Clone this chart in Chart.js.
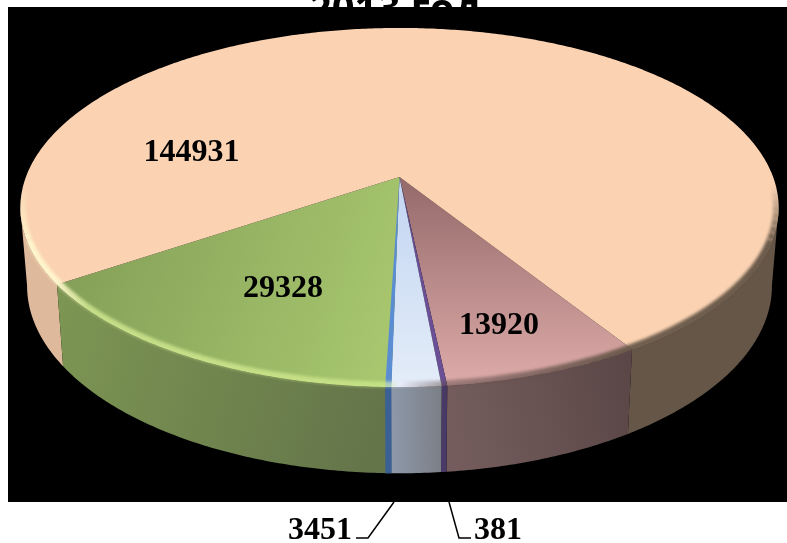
<!DOCTYPE html>
<html>
<head>
<meta charset="utf-8">
<title>2013 год</title>
<script src="https://cdn.jsdelivr.net/npm/chart.js@4"></script>
<style>
    body { margin: 0; background: white; }
    canvas { display: block; }
</style>
</head>
<body>
<canvas id="myChart" width="787" height="543"></canvas>
<script>
let titleText = "2013 год";
let categories = ["Slice A", "Slice B", "Slice C", "Slice D", "Slice E"];
let values = [13920, 381, 3451, 29328, 144931];

// colours per slice, same order as the values
let topFrom = ["#94696a", "#6b4f96", "#c2d5f2", "#84a058", "#fbd3b3"];
let topTo = ["#dcaaa8", "#6f5199", "#e3ecf8", "#a9c86f", "#fbd3b3"];
let wallFrom = ["#745c5c", "#4a3a68", "#8d98a8", "#7d9653", "#dfb99b"];
let wallTo = ["#5a4646", "#463660", "#7b7f86", "#64754a", "#655647"];

// where each label sits, x y
let labelSpots = [[499, 326], [498, 531], [320, 531], [283, 289], [191.5, 153]];

// projection of the pie, near side is bigger
let cx = 399.5;
let persp = 0.17;
let topShape = { apexY: 177, a: 373.6, b: 174.4 };
let lowShape = { apexY: 254, a: 367, b: 182 };

function project(shape, angle) {
    let w = 1 - persp * Math.sin(angle);
    return {
        x: cx + shape.a * Math.cos(angle) / w,
        y: shape.apexY + shape.b * Math.sin(angle) / w
    };
}

function rimPath(ctx, shape, from, to, first) {
    let steps = Math.max(2, Math.ceil(Math.abs(to - from) / 0.01));
    for (let i = 0; i <= steps; i++) {
        let p = project(shape, from + (to - from) * i / steps);
        if (i === 0 && first) {
            ctx.moveTo(p.x, p.y);
        } else {
            ctx.lineTo(p.x, p.y);
        }
    }
}

function slicePath(ctx, from, to) {
    ctx.beginPath();
    ctx.moveTo(cx, topShape.apexY);
    rimPath(ctx, topShape, from, to, false);
    ctx.closePath();
}

function wallPath(ctx, from, to) {
    ctx.beginPath();
    rimPath(ctx, topShape, from, to, true);
    rimPath(ctx, lowShape, to, from, false);
    ctx.closePath();
}

function hGradient(ctx, from, to, c1, c2) {
    let a = project(topShape, from);
    let b = project(topShape, to);
    let g = ctx.createLinearGradient(a.x, a.y, b.x, b.y);
    g.addColorStop(0, c1);
    g.addColorStop(1, c2);
    return g;
}

let pie3d = {
    id: "pie3d",

    beforeDraw(chart) {
        let ctx = chart.ctx;
        ctx.save();
        ctx.fillStyle = "white";
        ctx.fillRect(0, 0, 787, 543);

        // title is cut off by the black plot box, same as the picture
        ctx.fillStyle = "black";
        ctx.font = "bold 40px 'Open Sans'";
        ctx.textAlign = "center";
        ctx.textBaseline = "alphabetic";
        ctx.fillText(titleText, 395, 22);

        ctx.fillStyle = "black";
        ctx.fillRect(8, 7, 779, 495);

        // leader lines sit on the white strip
        ctx.strokeStyle = "black";
        ctx.lineWidth = 1.5;
        ctx.beginPath();
        ctx.moveTo(394, 502);
        ctx.lineTo(368, 538);
        ctx.lineTo(356, 538);
        ctx.moveTo(449, 502);
        ctx.lineTo(459, 538);
        ctx.lineTo(471, 538);
        ctx.stroke();
        ctx.restore();
    },

    beforeDatasetsDraw(chart) {
        let ctx = chart.ctx;
        let arcs = chart.getDatasetMeta(0).data;

        ctx.save();

        // Walls. The big slice only shows two bits of wall, left and right,
        // up to the point where the rim turns away from the viewer
        let turn = Math.asin(persp);
        let peach = ctx.createLinearGradient(20, 0, 778, 0);
        peach.addColorStop(0, wallFrom[4]);
        peach.addColorStop(0.08, wallFrom[4]);
        peach.addColorStop(0.8, wallTo[4]);
        peach.addColorStop(1, wallTo[4]);
        ctx.fillStyle = peach;
        wallPath(ctx, arcs[4].startAngle, Math.PI - turn);
        ctx.fill();
        wallPath(ctx, Math.PI * 2 + turn, arcs[4].endAngle);
        ctx.fill();

        [0, 1, 2, 3].forEach(i => {
            let s = arcs[i].startAngle;
            let e = arcs[i].endAngle;
            wallPath(ctx, s, e);
            ctx.fillStyle = hGradient(ctx, e, s, wallFrom[i], wallTo[i]);
            ctx.fill();
        });

        // Top face
        arcs.forEach((arc, i) => {
            let s = arc.startAngle;
            let e = arc.endAngle;
            slicePath(ctx, s, e);
            let g;
            if (i === 0 || i === 2) {
                g = ctx.createLinearGradient(0, 177, 0, 382);
                g.addColorStop(0, topFrom[i]);
                g.addColorStop(1, topTo[i]);
            } else if (i === 3) {
                g = ctx.createLinearGradient(60, 280, 390, 385);
                g.addColorStop(0, topFrom[i]);
                g.addColorStop(1, topTo[i]);
            } else {
                g = topFrom[i];
            }
            ctx.fillStyle = g;
            ctx.fill();
        });

        // blue edge on the left of the light slice, top and wall
        let edge = arcs[2].endAngle;
        wallPath(ctx, edge - 0.001, edge + 0.013);
        ctx.fillStyle = "#3b6096";
        ctx.fill();
        slicePath(ctx, edge - 0.001, edge + 0.013);
        ctx.fillStyle = "#5b8dd2";
        ctx.fill();

        // Bevel on the front rim, it fades out at both ends
        let shine = ctx.createLinearGradient(20, 0, 778, 0);
        shine.addColorStop(0, "rgba(255,246,205,0.95)");
        shine.addColorStop(0.05, "rgba(255,246,205,0.95)");
        shine.addColorStop(0.09, "rgba(215,238,150,0.75)");
        shine.addColorStop(0.48, "rgba(205,232,140,0.75)");
        shine.addColorStop(0.5, "rgba(240,240,255,0.5)");
        shine.addColorStop(0.56, "rgba(95,75,75,0.45)");
        shine.addColorStop(0.8, "rgba(100,85,70,0.9)");
        shine.addColorStop(1, "rgba(100,85,70,0.95)");

        ctx.save();
        ctx.beginPath();
        rimPath(ctx, topShape, 0, Math.PI * 2, true);
        ctx.closePath();
        ctx.clip();
        ctx.filter = "blur(1.5px)";
        ctx.strokeStyle = shine;
        ctx.lineWidth = 11;
        let fade = 0.3;
        let buckets = 8;
        let first = 0.05;
        let last = Math.PI - 0.05;
        for (let b = 0; b < buckets; b++) {
            ctx.globalAlpha = (b + 0.5) / buckets;
            ctx.beginPath();
            rimPath(ctx, topShape, first + fade * b / buckets, first + fade * (b + 1) / buckets, true);
            ctx.stroke();
            ctx.beginPath();
            rimPath(ctx, topShape, last - fade * b / buckets, last - fade * (b + 1) / buckets, true);
            ctx.stroke();
        }
        ctx.globalAlpha = 1;
        ctx.beginPath();
        rimPath(ctx, topShape, first + fade, last - fade, true);
        ctx.stroke();
        ctx.restore();

        // soft line where the top meets the wall
        ctx.save();
        ctx.filter = "blur(1px)";
        ctx.strokeStyle = shine;
        ctx.globalAlpha = 0.5;
        ctx.lineWidth = 2;
        ctx.beginPath();
        rimPath(ctx, topShape, first + fade, last - fade, true);
        ctx.stroke();
        ctx.restore();

        // Labels
        ctx.fillStyle = "black";
        ctx.font = "bold 32px 'Liberation Serif'";
        ctx.textAlign = "center";
        ctx.textBaseline = "middle";
        values.forEach((v, i) => {
            ctx.fillText(String(v), labelSpots[i][0], labelSpots[i][1]);
        });

        ctx.restore();

        // arcs are painted above, no flat pie on top of them
        return false;
    }
};

let chart = new Chart(document.getElementById("myChart").getContext("2d"), {
    type: "pie",
    data: {
        labels: categories,
        datasets: [{
            data: values,
            backgroundColor: topTo,
            borderWidth: 0
        }]
    },
    options: {
        responsive: false,
        animation: false,
        rotation: 147.8,
        plugins: {
            legend: { display: false },
            tooltip: { enabled: false },
            title: { display: false }
        }
    },
    plugins: [pie3d]
});
</script>
</body>
</html>
